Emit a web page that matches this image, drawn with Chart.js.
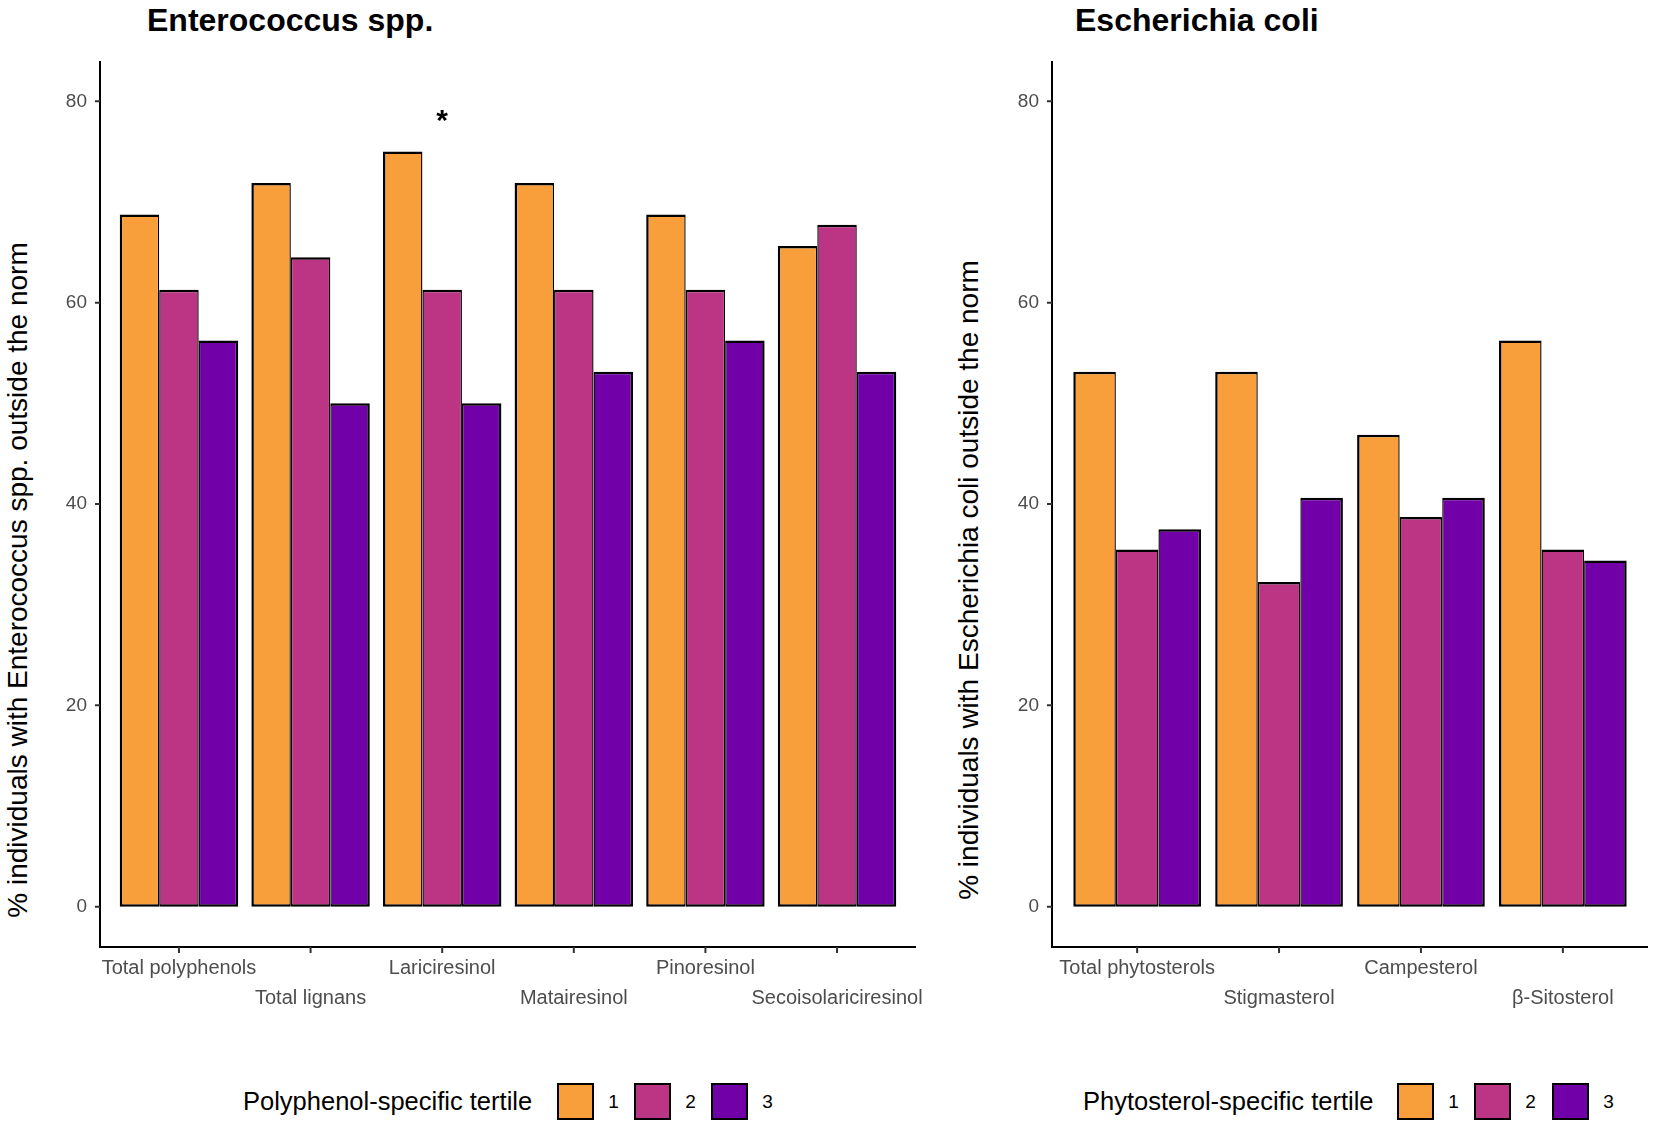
<!DOCTYPE html>
<html>
<head>
<meta charset="utf-8">
<script src="https://cdn.jsdelivr.net/npm/chart.js@4.4.1/dist/chart.umd.min.js"></script>
<style>
  html, body { margin: 0; padding: 0; background: #ffffff; }
  body { width: 1654px; height: 1127px; position: relative; overflow: hidden;
         font-family: "Liberation Sans", Arial, Helvetica, sans-serif; color: #000; }
  .abs { position: absolute; white-space: nowrap; }
  .ptitle { font-weight: bold; font-size: 32px; line-height: 32px; top: 4px; }
  .ytitle { font-size: 28px; line-height: 28px; transform: translate(-50%, -50%) rotate(-90deg); }
  .ltitle { font-size: 25.5px; line-height: 37px; height: 37px; top: 1083px; }
  .lbox { width: 37px; height: 37px; top: 1083px; box-sizing: border-box; border: 2px solid #000; }
  .llab { font-size: 19px; line-height: 37px; height: 37px; top: 1083px; transform: translateX(-50%); }
  canvas { position: absolute; top: 0; }
</style>
</head>
<body>
<div class="abs ptitle" id="titleL" style="left:147px;"></div>
<div class="abs ptitle" id="titleR" style="left:1075px;"></div>
<div class="abs ytitle" id="ytitleL" style="left:18px; top:580px;"></div>
<div class="abs ytitle" id="ytitleR" style="left:969px; top:580px;"></div>
<canvas id="chartL" width="940" height="1060" style="left:0px;width:940px;height:1060px;"></canvas>
<canvas id="chartR" width="714" height="1060" style="left:940px;width:714px;height:1060px;"></canvas>
<div id="legends"></div>
<script>
// ---------------- data ----------------
const tertileLabels = ['1', '2', '3'];

const polyTitle = 'Enterococcus spp.';
const polyYTitle = '% individuals with Enterococcus spp. outside the norm';
const polyLegendTitle = 'Polyphenol-specific tertile';
const polyCategories = ['Total polyphenols', 'Total lignans', 'Lariciresinol', 'Matairesinol', 'Pinoresinol', 'Secoisolariciresinol'];
const polyTertile1 = [68.75, 71.88, 75.00, 71.88, 68.75, 65.63];
const polyTertile2 = [61.29, 64.52, 61.29, 61.29, 61.29, 67.74];
const polyTertile3 = [56.25, 50.00, 50.00, 53.13, 56.25, 53.13];
const polyAnnotations = [{ category: 'Lariciresinol', value: 78, text: '*' }];

const sterolTitle = 'Escherichia coli';
const sterolYTitle = '% individuals with Escherichia coli outside the norm';
const sterolLegendTitle = 'Phytosterol-specific tertile';
const sterolCategories = ['Total phytosterols', 'Stigmasterol', 'Campesterol', '\u03B2-Sitosterol'];
const sterolTertile1 = [53.13, 53.13, 46.88, 56.25];
const sterolTertile2 = [35.48, 32.26, 38.71, 35.48];
const sterolTertile3 = [37.50, 40.63, 40.63, 34.38];
const sterolAnnotations = [];

const yTickValues = [0, 20, 40, 60, 80];
const yMin = -4;
const yMax = 84;

// ---------------- style ----------------
const tertileColors = ['#F89E3A', '#BB3584', '#7100A8'];
const FONT = "'Liberation Sans', Arial, Helvetica, sans-serif";
Chart.defaults.font.family = FONT;

const ggAxes = {
  id: 'ggAxes',
  afterDraw(chart, args, opts) {
    const { ctx, chartArea: a, scales } = chart;
    const x = scales.x, y = scales.y;
    const ext = opts.ext;
    const left = a.left - ext, right = a.right + ext;
    ctx.save();
    ctx.lineCap = 'butt';
    ctx.strokeStyle = '#000';
    ctx.lineWidth = 2;
    ctx.beginPath();
    ctx.moveTo(left, a.top);
    ctx.lineTo(left, a.bottom);
    ctx.lineTo(right, a.bottom);
    ctx.stroke();
    ctx.strokeStyle = '#333333';
    ctx.lineWidth = 2;
    ctx.beginPath();
    y.ticks.forEach(t => {
      const py = y.getPixelForValue(t.value);
      ctx.moveTo(left - 5, py); ctx.lineTo(left, py);
    });
    x.ticks.forEach((t, i) => {
      const px = x.getPixelForTick(i);
      ctx.moveTo(px, a.bottom); ctx.lineTo(px, a.bottom + 6);
    });
    ctx.stroke();
    // significance marks
    ctx.fillStyle = '#000';
    ctx.font = 'bold 30px ' + FONT;
    ctx.textAlign = 'center';
    ctx.textBaseline = 'middle';
    (opts.annotations || []).forEach(m => {
      const idx = chart.data.labels.indexOf(m.category);
      ctx.fillText(m.text, x.getPixelForValue(idx), y.getPixelForValue(m.value));
    });
    ctx.restore();
  }
};

function makeChart(canvasId, categories, series, annotations, geom) {
  const n = categories.length;
  const W = (geom.axisRight - geom.axisLeft) / (n + 0.2);
  const ext = 0.1 * W;
  const chartLeft = geom.axisLeft + ext - geom.canvasLeft;
  const chartRight = geom.axisRight - ext - geom.canvasLeft;
  const borders = [
    { top: 2.5, bottom: 2.5, left: 2.5, right: 1.4 },
    { top: 2.5, bottom: 2.5, left: 1.4, right: 1.4 },
    { top: 2.5, bottom: 2.5, left: 1.4, right: 2.5 }
  ];
  return new Chart(document.getElementById(canvasId), {
    type: 'bar',
    data: {
      labels: categories,
      datasets: series.map((vals, i) => ({
        label: tertileLabels[i],
        data: vals,
        backgroundColor: tertileColors[i],
        borderColor: '#000000',
        borderWidth: borders[i],
        borderSkipped: false,
        inflateAmount: 0,
        barPercentage: 1.0,
        categoryPercentage: 0.9
      }))
    },
    options: {
      responsive: false,
      animation: false,
      devicePixelRatio: 1,
      layout: { padding: { left: 0, right: geom.canvasWidth - chartRight, top: geom.top, bottom: 0 } },
      plugins: {
        legend: { display: false },
        tooltip: { enabled: false },
        title: { display: false },
        ggAxes: { ext: ext, annotations: annotations }
      },
      scales: {
        x: {
          type: 'category',
          offset: true,
          grid: { display: false, drawTicks: false },
          border: { display: false },
          afterFit: s => { s.height = geom.canvasHeight - geom.bottom; },
          ticks: {
            autoSkip: false,
            maxRotation: 0,
            minRotation: 0,
            padding: 6.75,
            color: '#4D4D4D',
            font: { size: 20, lineHeight: 1.475 },
            callback: function (value, index) {
              const lab = this.getLabelForValue(value);
              return index % 2 === 0 ? [lab] : ['', lab];
            }
          }
        },
        y: {
          type: 'linear',
          min: yMin,
          max: yMax,
          grid: { display: false, drawTicks: false },
          border: { display: false },
          afterFit: s => { s.width = chartLeft; },
          afterBuildTicks: s => { s.ticks = yTickValues.map(v => ({ value: v })); },
          ticks: {
            padding: ext + 13,
            color: '#4D4D4D',
            font: { size: 19 },
            callback: v => String(v)
          }
        }
      }
    },
    plugins: [ggAxes]
  });
}

makeChart('chartL', polyCategories, [polyTertile1, polyTertile2, polyTertile3], polyAnnotations,
  { canvasLeft: 0, canvasWidth: 940, canvasHeight: 1060, axisLeft: 100, axisRight: 916, top: 61, bottom: 947 });
makeChart('chartR', sterolCategories, [sterolTertile1, sterolTertile2, sterolTertile3], sterolAnnotations,
  { canvasLeft: 940, canvasWidth: 714, canvasHeight: 1060, axisLeft: 1052, axisRight: 1648, top: 61, bottom: 947 });

// titles
document.getElementById('titleL').textContent = polyTitle;
document.getElementById('titleR').textContent = sterolTitle;
document.getElementById('ytitleL').textContent = polyYTitle;
document.getElementById('ytitleR').textContent = sterolYTitle;

// legends
function makeLegend(title, titleLeft, boxLefts) {
  const host = document.getElementById('legends');
  const t = document.createElement('div');
  t.className = 'abs ltitle';
  t.style.left = titleLeft + 'px';
  t.textContent = title;
  host.appendChild(t);
  tertileLabels.forEach((lab, i) => {
    const b = document.createElement('div');
    b.className = 'abs lbox';
    b.style.left = boxLefts[i] + 'px';
    b.style.background = tertileColors[i];
    host.appendChild(b);
    const l = document.createElement('div');
    l.className = 'abs llab';
    l.style.left = (boxLefts[i] + 37 + 19.5) + 'px';
    l.textContent = lab;
    host.appendChild(l);
  });
}
makeLegend(polyLegendTitle, 243, [557, 634, 711]);
makeLegend(sterolLegendTitle, 1083, [1397, 1474, 1552]);
</script>
</body>
</html>
